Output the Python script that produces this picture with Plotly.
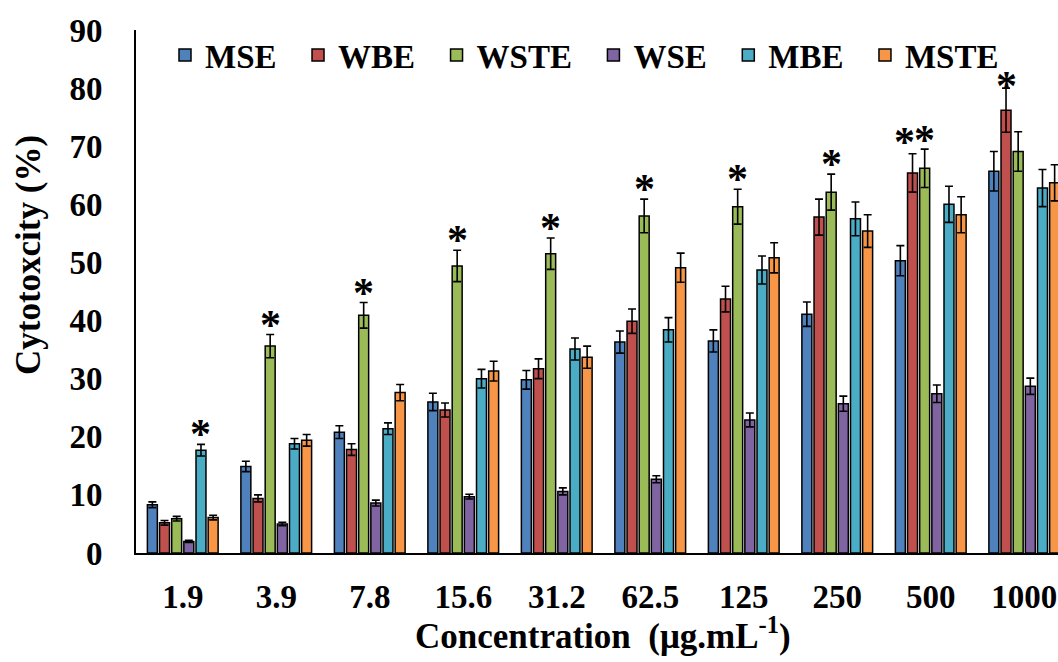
import plotly.graph_objects as go

categories = ["1.9", "3.9", "7.8", "15.6", "31.2", "62.5", "125", "250", "500", "1000"]
series_names = ["MSE", "WBE", "WSTE", "WSE", "MBE", "MSTE"]
colors = ["#4F81BD", "#C0504D", "#9BBB59", "#8064A2", "#4BACC6", "#F79646"]

MSE  = [8.3, 14.9, 20.8, 26.0, 29.8, 36.3, 36.5, 41.1, 50.3, 65.7]
WBE  = [5.2, 9.4, 17.8, 24.6, 31.7, 39.9, 43.7, 57.8, 65.4, 76.2]
WSTE = [5.9, 35.6, 40.9, 49.4, 51.5, 58.0, 59.6, 62.1, 66.2, 69.1]
WSE  = [2.0, 5.0, 8.6, 9.7, 10.6, 12.7, 22.9, 25.7, 27.4, 28.7]
MBE  = [17.7, 18.8, 21.4, 30.0, 35.1, 38.4, 48.7, 57.5, 60.0, 62.8]
MSTE = [6.1, 19.4, 27.6, 31.3, 33.7, 49.1, 50.8, 55.4, 58.2, 63.7]

MSE_err  = [0.5, 0.9, 1.1, 1.5, 1.6, 1.9, 1.9, 2.1, 2.6, 3.4]
WBE_err  = [0.4, 0.6, 1.0, 1.2, 1.7, 2.1, 2.2, 3.1, 3.3, 3.8]
WSTE_err = [0.4, 2.0, 2.2, 2.7, 2.7, 2.9, 3.0, 3.1, 3.3, 3.4]
WSE_err  = [0.2, 0.3, 0.5, 0.4, 0.6, 0.6, 1.2, 1.3, 1.5, 1.4]
MBE_err  = [1.0, 0.9, 1.0, 1.6, 1.9, 2.1, 2.4, 2.9, 3.1, 3.2]
MSTE_err = [0.4, 1.0, 1.4, 1.7, 1.9, 2.5, 2.6, 2.8, 3.1, 3.1]

# significance marks: (category index, series index, horizontal nudge px, vertical nudge px)
stars = [(0, 4, 0, 10), (1, 2, 0, 10), (2, 2, 0, 10), (3, 2, 0, 10), (4, 2, 0, 10),
         (5, 2, 0, 10), (6, 2, 0, 10), (7, 2, 0, 10), (8, 1, -8, 12), (8, 2, 0, 9),
         (9, 1, 0, 2)]

values = [MSE, WBE, WSTE, WSE, MBE, MSTE]
errors = [MSE_err, WBE_err, WSTE_err, WSE_err, MBE_err, MSTE_err]

FONT = "Liberation Serif"
bargap = 0.22
nser = len(series_names)
xs = list(range(len(categories)))

fig = go.Figure()
for name, col, v, e in zip(series_names, colors, values, errors):
    fig.add_trace(go.Bar(
        x=xs, y=v, name=f"<b>{name}</b>&nbsp;&nbsp;",
        marker=dict(color=col, line=dict(color="black", width=1.5)),
        error_y=dict(type="data", array=e, visible=True, color="black",
                     thickness=1.6, width=4),
    ))

slot = (1 - bargap) / nser
annotations = []
for ci, si, dx, dy in stars:
    xpos = ci - (1 - bargap) / 2 + (si + 0.5) * slot
    annotations.append(dict(
        x=xpos, y=values[si][ci] + errors[si][ci], xref="x", yref="y",
        text="<b>*</b>", showarrow=False, yanchor="middle", yshift=dy, xshift=dx,
        font=dict(family=FONT, size=42, color="black"),
    ))

annotations.append(dict(
    x=(603 - 136) / 922, y=0, xref="paper", yref="paper",
    text="<b>Concentration&nbsp; (μg.mL<sup>-1</sup>)</b>", showarrow=False,
    xanchor="center", yanchor="middle", yshift=-80,
    font=dict(family=FONT, size=35, color="black"),
))
annotations.append(dict(
    x=(29 - 136) / 922, y=(553 - 255) / 523, xref="paper", yref="paper",
    text="<b>Cytotoxcity (%)</b>", showarrow=False, textangle=-90,
    xanchor="center", yanchor="middle",
    font=dict(family=FONT, size=35, color="black"),
))

fig.update_layout(
    width=1058, height=662,
    margin=dict(l=136, r=0, t=30, b=109),
    paper_bgcolor="white", plot_bgcolor="white",
    barmode="group", bargap=bargap, bargroupgap=0.18,
    font=dict(family=FONT, size=33, color="black"),
    showlegend=True,
    legend=dict(orientation="h", x=(165 - 136) / 922, y=0.952, xanchor="left", yanchor="middle",
                font=dict(family=FONT, size=33, color="black"),
                bgcolor="rgba(0,0,0,0)"),
    annotations=annotations,
    xaxis=dict(
        range=[-0.5, -0.5 + 922 / 93.5], tickmode="array", tickvals=xs,
        ticktext=[f"<b>{c}</b>" for c in categories],
        showline=True, linecolor="black", linewidth=2, showgrid=False,
        ticks="", zeroline=False, ticklabelstandoff=13,
        tickfont=dict(family=FONT, size=33, color="black"),
    ),
    yaxis=dict(
        range=[0, 90], tickmode="array", tickvals=list(range(0, 91, 10)),
        ticktext=[f"<b>{t}</b>" for t in range(0, 91, 10)],
        showline=True, linecolor="black", linewidth=2, showgrid=False,
        ticks="", zeroline=False, ticklabelstandoff=25,
        tickfont=dict(family=FONT, size=33, color="black"),
    ),
)

fig.write_html("out.html", post_script="document.body.style.margin='0';",
               config={"displayModeBar": False})
